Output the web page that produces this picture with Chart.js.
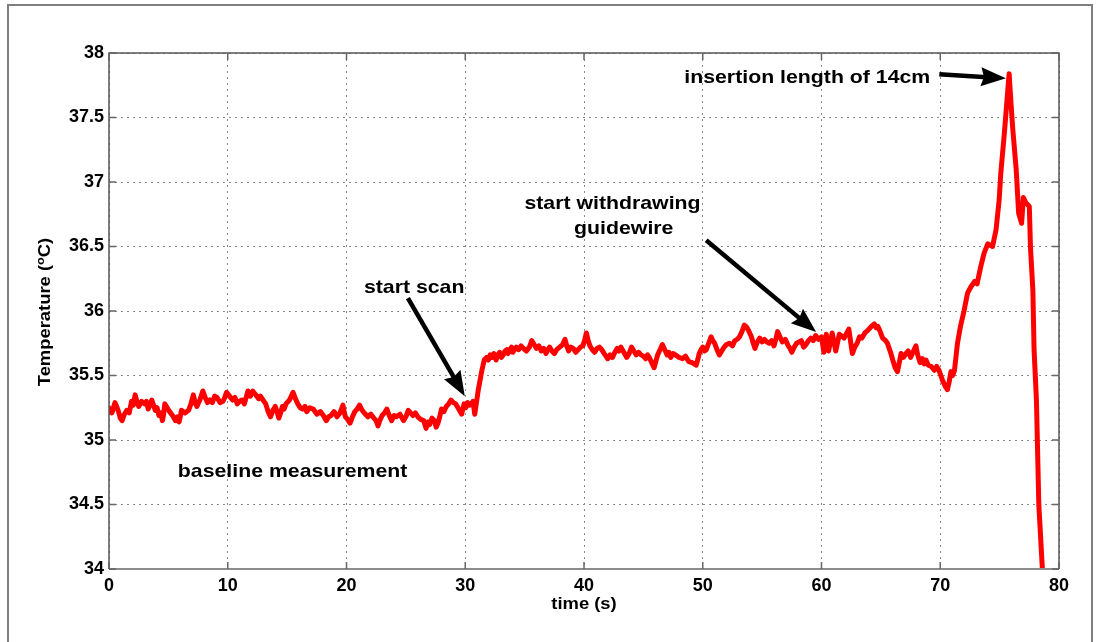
<!DOCTYPE html>
<html>
<head>
<meta charset="utf-8">
<script src="https://cdn.jsdelivr.net/npm/chart.js@4.4.1/dist/chart.umd.min.js"></script>
<style>
    html, body { margin: 0; padding: 0; background: #fff; }
    #wrap { position: relative; width: 1098px; height: 642px; }
    #frame { position: absolute; left: 7px; top: 4px; width: 1086px; height: 640px; border: 2px solid #7f7f7f; border-bottom: none; box-sizing: border-box; pointer-events: none; }
</style>
</head>
<body>
<div id="wrap">
    <canvas id="myChart" width="1098" height="642"></canvas>
    <div id="frame"></div>
</div>
<script>
    // catheter tip temperature over time
    let timeSec = [
        0.0, 0.25, 0.5, 0.65, 0.8, 0.95, 1.1, 1.3, 1.5, 1.7,
        1.9, 2.05, 2.2, 2.35, 2.5, 2.75, 3.0, 3.15, 3.3, 3.45,
        3.6, 3.75, 3.9, 4.05, 4.2, 4.35, 4.5, 4.6, 4.7, 4.9,
        5.1, 5.35, 5.6, 5.75, 5.9, 6.0, 6.1, 6.4, 6.7, 6.9,
        7.1, 7.25, 7.4, 7.65, 7.9, 8.1, 8.3, 8.5, 8.7, 8.9,
        9.1, 9.35, 9.6, 9.75, 9.9, 10.15, 10.4, 10.6, 10.8, 11.0,
        11.2, 11.4, 11.55, 11.7, 11.9, 12.1, 12.35, 12.6, 12.75, 12.9,
        13.05, 13.2, 13.4, 13.6, 13.8, 14.0, 14.15, 14.3, 14.45, 14.6,
        14.75, 14.9, 15.2, 15.5, 15.7, 15.9, 16.1, 16.3, 16.5, 16.65,
        16.9, 17.2, 17.5, 17.8, 18.05, 18.3, 18.5, 18.7, 18.95, 19.2,
        19.45, 19.7, 19.8, 19.9, 20.1, 20.3, 20.5, 20.7, 20.9, 21.1,
        21.25, 21.4, 21.6, 21.8, 22.05, 22.3, 22.5, 22.65, 22.8, 23.0,
        23.2, 23.4, 23.6, 23.8, 24.0, 24.2, 24.5, 24.8, 25.0, 25.2,
        25.4, 25.6, 25.8, 26.0, 26.25, 26.5, 26.6, 26.7, 26.85, 27.0,
        27.2, 27.4, 27.55, 27.7, 27.85, 28.0, 28.2, 28.4, 28.6, 28.8,
        29.0, 29.2, 29.45, 29.7, 29.8, 29.9, 30.05, 30.2, 30.35, 30.5,
        30.65, 30.8, 31.1, 31.4, 31.6, 31.8, 31.95, 32.1, 32.25, 32.4,
        32.5, 32.6, 32.75, 32.9, 33.05, 33.2, 33.35, 33.5, 33.6, 33.75,
        33.9, 34.0, 34.15, 34.3, 34.5, 34.7, 34.9, 35.15, 35.4, 35.6,
        35.8, 36.0, 36.2, 36.4, 36.6, 36.8, 36.95, 37.1, 37.3, 37.5,
        37.7, 37.95, 38.2, 38.4, 38.55, 38.7, 38.9, 39.1, 39.3, 39.5,
        39.7, 39.9, 40.05, 40.2, 40.35, 40.5, 40.7, 40.9, 41.1, 41.3,
        41.5, 41.7, 41.85, 42.0, 42.2, 42.4, 42.6, 42.8, 42.95, 43.1,
        43.35, 43.6, 43.8, 44.0, 44.2, 44.4, 44.6, 44.8, 45.0, 45.2,
        45.35, 45.5, 45.7, 45.9, 46.05, 46.2, 46.4, 46.6, 46.8, 47.0,
        47.15, 47.3, 47.5, 47.7, 48.0, 48.3, 48.55, 48.8, 49.1, 49.45,
        49.6, 49.7, 49.85, 50.0, 50.15, 50.3, 50.5, 50.7, 50.85, 51.0,
        51.2, 51.4, 51.6, 51.8, 52.0, 52.25, 52.5, 52.7, 52.9, 53.1,
        53.3, 53.5, 53.65, 53.8, 53.95, 54.1, 54.25, 54.4, 54.6, 54.8,
        55.0, 55.2, 55.4, 55.6, 55.8, 56.0, 56.15, 56.3, 56.5, 56.7,
        56.95, 57.2, 57.35, 57.5, 57.7, 57.9, 58.1, 58.3, 58.5, 58.7,
        58.9, 59.1, 59.3, 59.5, 59.75, 60.0, 60.2, 60.4, 60.6, 60.9,
        61.2, 61.5, 61.9, 62.3, 62.6, 62.8, 63.0, 63.2, 63.4, 63.65,
        63.9, 64.1, 64.3, 64.45, 64.6, 64.75, 64.9, 65.15, 65.4, 65.55,
        65.7, 65.85, 66.0, 66.2, 66.4, 66.55, 66.7, 66.9, 67.1, 67.3,
        67.5, 67.7, 67.95, 68.1, 68.3, 68.5, 68.65, 68.8, 69.0, 69.25,
        69.5, 69.7, 69.9, 70.05, 70.2, 70.4, 70.6, 70.75, 70.9, 71.05,
        71.2, 71.45, 71.7, 72.0, 72.3, 72.6, 72.9, 73.1, 73.4, 73.7,
        74.0, 74.4, 74.7, 74.96, 75.1, 75.4, 75.6, 75.8, 75.95, 76.1,
        76.4, 76.6, 76.85, 77.0, 77.2, 77.5, 77.6, 77.8, 77.9, 78.1,
        78.3, 78.6
    ];
    let tempC = [
        35.25, 35.21, 35.29, 35.26, 35.22, 35.17, 35.15, 35.20, 35.23, 35.21,
        35.30, 35.27, 35.35, 35.30, 35.26, 35.30, 35.28, 35.30, 35.24, 35.27,
        35.31, 35.27, 35.23, 35.25, 35.19, 35.21, 35.15, 35.20, 35.28, 35.25,
        35.22, 35.19, 35.15, 35.18, 35.14, 35.18, 35.23, 35.21, 35.23, 35.28,
        35.35, 35.29, 35.26, 35.31, 35.38, 35.33, 35.29, 35.31, 35.29, 35.34,
        35.33, 35.29, 35.30, 35.33, 35.37, 35.34, 35.31, 35.33, 35.28, 35.30,
        35.31, 35.28, 35.33, 35.38, 35.34, 35.38, 35.35, 35.32, 35.34, 35.32,
        35.30, 35.28, 35.22, 35.18, 35.23, 35.26, 35.22, 35.17, 35.21, 35.26,
        35.24, 35.28, 35.31, 35.37, 35.32, 35.28, 35.25, 35.24, 35.26, 35.22,
        35.25, 35.24, 35.20, 35.22, 35.19, 35.15, 35.18, 35.19, 35.22, 35.18,
        35.21, 35.27, 35.22, 35.18, 35.16, 35.13, 35.18, 35.22, 35.24, 35.27,
        35.24, 35.22, 35.20, 35.18, 35.20, 35.17, 35.15, 35.11, 35.15, 35.19,
        35.21, 35.24, 35.19, 35.15, 35.19, 35.18, 35.20, 35.15, 35.18, 35.23,
        35.21, 35.19, 35.21, 35.18, 35.16, 35.15, 35.12, 35.09, 35.14, 35.12,
        35.17, 35.15, 35.10, 35.13, 35.18, 35.24, 35.22, 35.26, 35.28, 35.31,
        35.29, 35.28, 35.24, 35.20, 35.24, 35.28, 35.25, 35.29, 35.27, 35.28,
        35.30, 35.20, 35.39, 35.54, 35.62, 35.64, 35.62, 35.66, 35.64, 35.67,
        35.65, 35.62, 35.66, 35.68, 35.64, 35.66, 35.69, 35.70, 35.67, 35.70,
        35.72, 35.68, 35.70, 35.72, 35.70, 35.73, 35.71, 35.69, 35.72, 35.77,
        35.74, 35.71, 35.73, 35.69, 35.71, 35.67, 35.70, 35.72, 35.69, 35.67,
        35.70, 35.72, 35.74, 35.78, 35.73, 35.69, 35.72, 35.71, 35.68, 35.70,
        35.72, 35.73, 35.77, 35.83, 35.77, 35.73, 35.70, 35.68, 35.71, 35.72,
        35.70, 35.67, 35.65, 35.63, 35.66, 35.64, 35.68, 35.71, 35.69, 35.72,
        35.68, 35.64, 35.67, 35.72, 35.69, 35.66, 35.68, 35.66, 35.65, 35.63,
        35.66, 35.64, 35.60, 35.56, 35.61, 35.66, 35.70, 35.74, 35.70, 35.66,
        35.68, 35.64, 35.67, 35.66, 35.64, 35.63, 35.65, 35.61, 35.60, 35.58,
        35.63, 35.67, 35.70, 35.72, 35.69, 35.70, 35.75, 35.80, 35.77, 35.75,
        35.70, 35.66, 35.69, 35.72, 35.74, 35.75, 35.73, 35.77, 35.78, 35.80,
        35.84, 35.89, 35.88, 35.86, 35.83, 35.80, 35.75, 35.71, 35.76, 35.79,
        35.76, 35.78, 35.76, 35.75, 35.77, 35.73, 35.78, 35.84, 35.80, 35.76,
        35.78, 35.73, 35.71, 35.68, 35.72, 35.75, 35.76, 35.77, 35.72, 35.74,
        35.77, 35.79, 35.77, 35.81, 35.78, 35.80, 35.68, 35.82, 35.69, 35.83,
        35.69, 35.82, 35.79, 35.86, 35.67, 35.72, 35.75, 35.80, 35.79, 35.83,
        35.85, 35.87, 35.89, 35.90, 35.87, 35.88, 35.85, 35.79, 35.77, 35.75,
        35.71, 35.67, 35.62, 35.56, 35.53, 35.60, 35.67, 35.64, 35.67, 35.69,
        35.64, 35.68, 35.73, 35.66, 35.60, 35.63, 35.59, 35.62, 35.58, 35.57,
        35.54, 35.57, 35.54, 35.50, 35.46, 35.42, 35.39, 35.45, 35.53, 35.50,
        35.54, 35.75, 35.88, 36.00, 36.14, 36.19, 36.23, 36.21, 36.34, 36.45,
        36.52, 36.50, 36.63, 36.86, 37.07, 37.38, 37.61, 37.84, 37.62, 37.42,
        37.09, 36.76, 36.68, 36.88, 36.84, 36.81, 36.49, 36.16, 35.70, 35.31,
        34.50, 34.00
    ];

    let xTicks = [0, 10, 20, 30, 40, 50, 60, 70, 80];
    let yTicks = [34, 34.5, 35, 35.5, 36, 36.5, 37, 37.5, 38];

    // text notes: [label, x, y] in data units
    let notes = [
        ['insertion length of 14cm', 58.8, 37.81],
        ['start withdrawing', 42.4, 36.83],
        ['guidewire', 43.35, 36.64],
        ['start scan', 25.7, 36.18],
        ['baseline measurement', 15.46, 34.757]
    ];
    // arrows: [x0, y0, x1, y1] in data units, head at the second point
    let arrows = [
        [69.92, 37.835, 75.53, 37.804],
        [50.29, 36.548, 59.55, 35.837],
        [25.17, 36.10, 29.96, 35.34]
    ];

    let points = [];
    for (let i = 0; i < timeSec.length; i++) {
        points.push({ x: timeSec[i], y: tempC[i] });
    }

    let fontFamily = '"Liberation Sans", Arial, sans-serif';

    function drawArrow(ctx, x0, y0, x1, y1) {
        let ang = Math.atan2(y1 - y0, x1 - x0);
        let cos = Math.cos(ang);
        let sin = Math.sin(ang);
        let headLen = 25;
        let headHalf = 9.5;
        let bx = x1 - headLen * cos;
        let by = y1 - headLen * sin;
        ctx.beginPath();
        ctx.moveTo(x0, y0);
        ctx.lineTo(bx + 6 * cos, by + 6 * sin);
        ctx.lineWidth = 4.5;
        ctx.lineCap = 'butt';
        ctx.strokeStyle = '#000';
        ctx.stroke();
        ctx.beginPath();
        ctx.moveTo(x1, y1);
        ctx.lineTo(bx - headHalf * sin, by + headHalf * cos);
        ctx.lineTo(bx + 3 * cos, by + 3 * sin);
        ctx.lineTo(bx + headHalf * sin, by - headHalf * cos);
        ctx.closePath();
        ctx.fillStyle = '#000';
        ctx.fill();
    }

    // text stretched a little wider than the plain font
    function wideText(ctx, text, x, y, stretch) {
        ctx.save();
        ctx.translate(x, y);
        ctx.scale(stretch, 1);
        ctx.fillText(text, 0, 0);
        ctx.restore();
    }

    let figurePlugin = {
        id: 'figurePlugin',
        afterDraw(chart) {
            let ctx = chart.ctx;
            let area = chart.chartArea;
            let xs = chart.scales.x;
            let ys = chart.scales.y;
            ctx.save();

            // axes box
            ctx.strokeStyle = '#555';
            ctx.lineWidth = 1.5;
            ctx.beginPath();
            ctx.moveTo(area.left, area.bottom);
            ctx.lineTo(area.left, area.top);
            ctx.lineTo(area.right, area.top);
            ctx.lineTo(area.right, area.bottom);
            ctx.stroke();
            ctx.strokeStyle = '#8c8c8c';
            ctx.lineWidth = 2;
            ctx.beginPath();
            ctx.moveTo(area.left, area.bottom);
            ctx.lineTo(area.right, area.bottom);
            ctx.stroke();

            // inward tick marks on all four sides
            ctx.strokeStyle = '#666';
            ctx.lineWidth = 1.5;
            ctx.beginPath();
            yTicks.forEach(function (v) {
                let py = ys.getPixelForValue(v);
                ctx.moveTo(area.left, py);
                ctx.lineTo(area.left + 7, py);
                ctx.moveTo(area.right, py);
                ctx.lineTo(area.right - 7, py);
            });
            xTicks.forEach(function (v) {
                let px = xs.getPixelForValue(v);
                ctx.moveTo(px, area.bottom);
                ctx.lineTo(px, area.bottom - 7);
                ctx.moveTo(px, area.top);
                ctx.lineTo(px, area.top + 7);
            });
            ctx.stroke();

            // annotations
            ctx.fillStyle = '#000';
            ctx.font = 'bold 19px ' + fontFamily;
            ctx.textAlign = 'center';
            ctx.textBaseline = 'middle';
            notes.forEach(function (n) {
                wideText(ctx, n[0], xs.getPixelForValue(n[1]), ys.getPixelForValue(n[2]), 1.12);
            });
            arrows.forEach(function (a) {
                drawArrow(ctx,
                    xs.getPixelForValue(a[0]), ys.getPixelForValue(a[1]),
                    xs.getPixelForValue(a[2]), ys.getPixelForValue(a[3]));
            });

            // axis titles
            let titleFont = 'bold 16px ' + fontFamily;
            let supFont = 'bold 11px ' + fontFamily;
            ctx.font = titleFont;
            ctx.textAlign = 'center';
            ctx.textBaseline = 'middle';
            wideText(ctx, 'time (s)', (area.left + area.right) / 2, 605, 1.15);

            ctx.save();
            ctx.translate(46, 312);
            ctx.rotate(-Math.PI / 2);
            ctx.scale(1.15, 1);
            let partA = 'Temperature (';
            let partB = 'o';
            let partC = 'C)';
            let wA = ctx.measureText(partA).width;
            let wC = ctx.measureText(partC).width;
            ctx.font = supFont;
            let wB = ctx.measureText(partB).width;
            let start = -(wA + wB + wC) / 2;
            ctx.textAlign = 'left';
            ctx.font = titleFont;
            ctx.fillText(partA, start, 0);
            ctx.font = supFont;
            ctx.fillText(partB, start + wA, -5);
            ctx.font = titleFont;
            ctx.fillText(partC, start + wA + wB, 0);
            ctx.restore();

            ctx.restore();
        }
    };

    let ctx = document.getElementById('myChart').getContext('2d');
    let myChart = new Chart(ctx, {
        type: 'line',
        data: {
            datasets: [{
                label: 'Temperature',
                data: points,
                borderColor: '#ff0000',
                borderWidth: 5,
                pointRadius: 0,
                tension: 0,
                borderJoinStyle: 'round',
                borderCapStyle: 'round'
            }]
        },
        options: {
            responsive: false,
            animation: false,
            layout: {
                padding: { left: 0, top: 53, right: 39, bottom: 0 }
            },
            plugins: {
                legend: { display: false },
                tooltip: { enabled: false }
            },
            scales: {
                x: {
                    type: 'linear',
                    min: 0,
                    max: 80,
                    afterBuildTicks: function (scale) {
                        scale.ticks = xTicks.map(function (v) { return { value: v }; });
                    },
                    afterFit: function (scale) { scale.height = 73; },
                    grid: { color: '#8a8a8a', lineWidth: 1, drawTicks: false },
                    border: { display: false, dash: [2, 4] },
                    ticks: {
                        padding: 6,
                        color: '#000',
                        font: { family: fontFamily, size: 18, weight: 'bold' },
                        callback: function (value) { return String(value); }
                    }
                },
                y: {
                    min: 34,
                    max: 38,
                    afterBuildTicks: function (scale) {
                        scale.ticks = yTicks.map(function (v) { return { value: v }; });
                    },
                    afterFit: function (scale) { scale.width = 109; },
                    grid: { color: '#8a8a8a', lineWidth: 1, drawTicks: false },
                    border: { display: false, dash: [2, 4] },
                    ticks: {
                        padding: 5,
                        color: '#000',
                        font: { family: fontFamily, size: 18, weight: 'bold' },
                        callback: function (value) { return String(value); }
                    }
                }
            }
        },
        plugins: [figurePlugin]
    });
</script>
</body>
</html>
